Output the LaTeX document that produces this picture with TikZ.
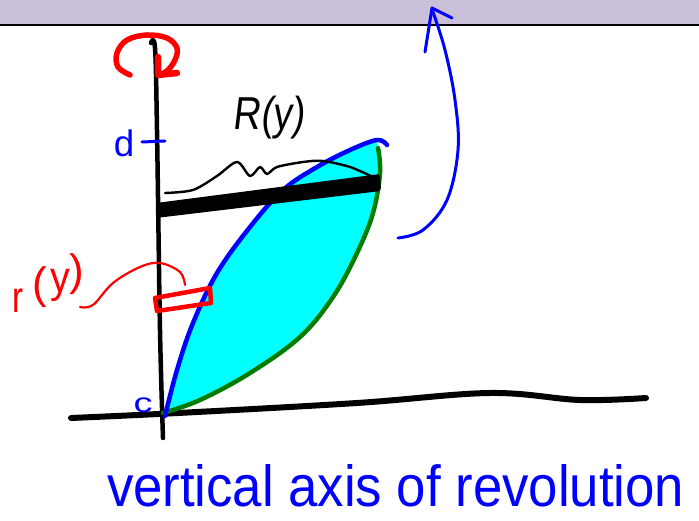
\documentclass[tikz,border=0pt]{standalone}
\usepackage{fontspec}
\setmainfont{Liberation Sans}
\usepackage{graphicx}
\definecolor{barlav}{RGB}{203,192,217}
\definecolor{penblue}{RGB}{0,0,255}
\definecolor{pengreen}{RGB}{0,125,0}
\definecolor{penred}{RGB}{255,0,0}
\definecolor{regioncyan}{RGB}{0,255,255}
\begin{document}
\begin{tikzpicture}[x=1pt,y=-1pt,
  pen/.style={line cap=round,line join=round},
  axisline/.style={pen,draw=black,line width=4.5pt},
  bluecurve/.style={pen,draw=penblue,line width=4.5pt},
  greencurve/.style={pen,draw=pengreen,line width=4.5pt},
  redpen/.style={pen,draw=penred},
  label/.style={inner sep=0pt,outer sep=0pt},
  redglyph/.style={label,text=penred,font=\fontsize{44}{44}\selectfont}]
\useasboundingbox (0,0) rectangle (699,521);
% top bar
\fill[barlav] (0,0) rectangle (699,25);
\draw[line width=2pt] (0,25) -- (699,25);
% region
\fill[regioncyan] plot[smooth,tension=0.6] coordinates {(165,413) (177,370) (193,323) (217,273) (250,227) (283,190) (317,167) (350,150) (377,141)}
  -- plot[smooth,tension=0.6] coordinates {(378,148) (380,173) (373,213) (357,253) (333,297) (300,337) (250,373) (200,400) (163,413)} -- cycle;
% axes
\draw[axisline] plot[smooth,tension=0.6] coordinates {(151,43) (155,48) (157,130) (160,330) (163,438)};
\draw[axisline,line width=6pt] plot[smooth,tension=0.6] coordinates {(71,418) (178,413) (357,403) (490,393) (580,400) (646,398)};
% curves
\draw[greencurve] plot[smooth,tension=0.6] coordinates {(163,413) (200,400) (250,373) (300,337) (333,297) (357,253) (373,213) (380,173) (378,148)};
\draw[bluecurve] plot[smooth,tension=0.6] coordinates {(165,416) (177,370) (193,323) (217,273) (250,227) (283,190) (317,167) (350,150) (377,140) (387,145)};
% thick R(y) bar
\fill[rounded corners=3pt] (156,203) -- (380,174) -- (381,191) -- (156,218) -- cycle;
% brace
\draw[pen,line width=2.4pt] plot[smooth,tension=0.5] coordinates {(165,193) (193,190) (217,176) (237,162) (250,176) (260,167) (267,174) (277,167) (303,162) (323,161) (350,167) (373,177)};
% d tick
\draw[pen,draw=penblue,line width=3pt] (142,142) -- (165,141);
% red rectangle and pointer
\draw[redpen,line width=4.5pt] (155,298) -- (210,288) -- (211,303) -- (157,311) -- cycle;
\draw[redpen,line width=2.2pt] plot[smooth,tension=0.6] coordinates {(80,307) (93,305) (113,283) (140,267) (160,263) (180,272) (185,285)};
% red rotation arrow
\draw[redpen,line width=5.5pt] plot[smooth,tension=0.6] coordinates {(130,75) (118,67) (117,53) (127,40) (147,35) (167,38) (177,48) (175,60) (168,70) (160,75)};
\draw[redpen,line width=6.5pt] (158,57) -- (158,75) -- (177,73);
% blue rotation arrow
\draw[bluecurve,line width=3pt] plot[smooth,tension=0.6] coordinates {(398,238) (423,230) (447,200) (458,150) (455,100) (445,50) (433,12)};
\draw[bluecurve,line width=3pt] (425,52) -- (432,8) -- (452,18);
% labels
\node[label,text=black,xslant=0.12] (Ry) at (270,118) {\resizebox*{72pt}{43pt}{R(y)}};
\node[redglyph,anchor=base] (ry1) at (18,313) {\scalebox{0.75}[1]{r}};
\node[redglyph,anchor=base] (ry2) at (40,299) {(};
\node[redglyph,anchor=base] (ry3) at (60,293) {\scalebox{0.9}[1]{y}};
\node[redglyph,anchor=base] (ry4) at (77,286) {)};
\node[label,text=penblue] (dl) at (124,143) {\resizebox*{!}{27pt}{d}};
\node[label,text=penblue] (cl) at (143,405) {\resizebox*{19pt}{15pt}{c}};
\node[label,text=penblue,anchor=base west] (title) at (107,506) {\resizebox{577pt}{42pt}{vertical axis of revolution}};
\end{tikzpicture}
\end{document}
